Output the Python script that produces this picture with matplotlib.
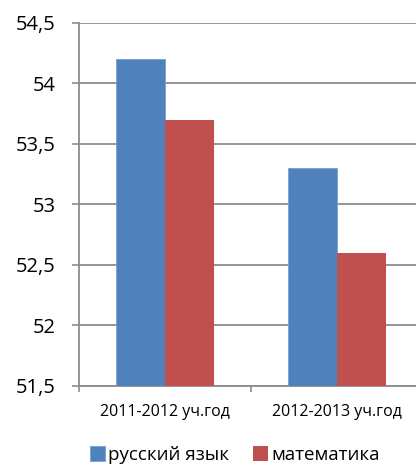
import matplotlib.pyplot as plt
import numpy as np
from matplotlib.ticker import FuncFormatter

categories = ["2011-2012 уч.год", "2012-2013 уч.год"]
russian = [54.2, 53.3]
math = [53.7, 52.6]
series_names = ["русский язык", "математика"]
yticks = [51.5, 52, 52.5, 53, 53.5, 54, 54.5]

plt.rcParams['font.family'] = ['Open Sans', 'DejaVu Sans']

fig = plt.figure(figsize=(4.16, 4.67), dpi=100)
ax = fig.add_axes([79 / 416, 1 - 386 / 467, 344 / 416, (386 - 23) / 467])

x = np.arange(len(categories))
w = 0.285
ax.bar(x - w / 2, russian, w, color="#4f81bd", edgecolor="#7aa0d0", linewidth=0.6, label=series_names[0], zorder=3)
ax.bar(x + w / 2, math, w, color="#c0504d", label=series_names[1], zorder=3)

ax.set_ylim(51.5, 54.5)
ax.set_xlim(-0.5, 1.5)
ax.set_yticks(yticks)
ax.yaxis.set_major_formatter(FuncFormatter(lambda v, p: f"{v:g}".replace(".", ",")))
ax.set_xticks(x)
ax.set_xticklabels(categories, fontsize=11.5)
ax.set_xticks([-0.5, 0.5, 1.5], minor=True)
ax.tick_params(axis="x", which="major", length=0, pad=13)
ax.tick_params(axis="x", which="minor", length=4, color="#8c8c8c", width=1.2)
ax.tick_params(axis="y", length=5, color="#8c8c8c", width=1.2, labelsize=14.5, pad=12)

ax.grid(axis="y", color="#8c8c8c", linewidth=1.3, zorder=0)
for s in ["top", "right"]:
    ax.spines[s].set_visible(False)
for s in ["left", "bottom"]:
    ax.spines[s].set_color("#8c8c8c")
    ax.spines[s].set_linewidth(1.3)

fig.legend(loc="center", bbox_to_anchor=(0.565, 1 - 455 / 467), ncol=2, frameon=False,
           fontsize=13.5, handlelength=0.8, handleheight=0.8, handletextpad=0.15, columnspacing=1.3)

fig.savefig("out.png", dpi=100)
